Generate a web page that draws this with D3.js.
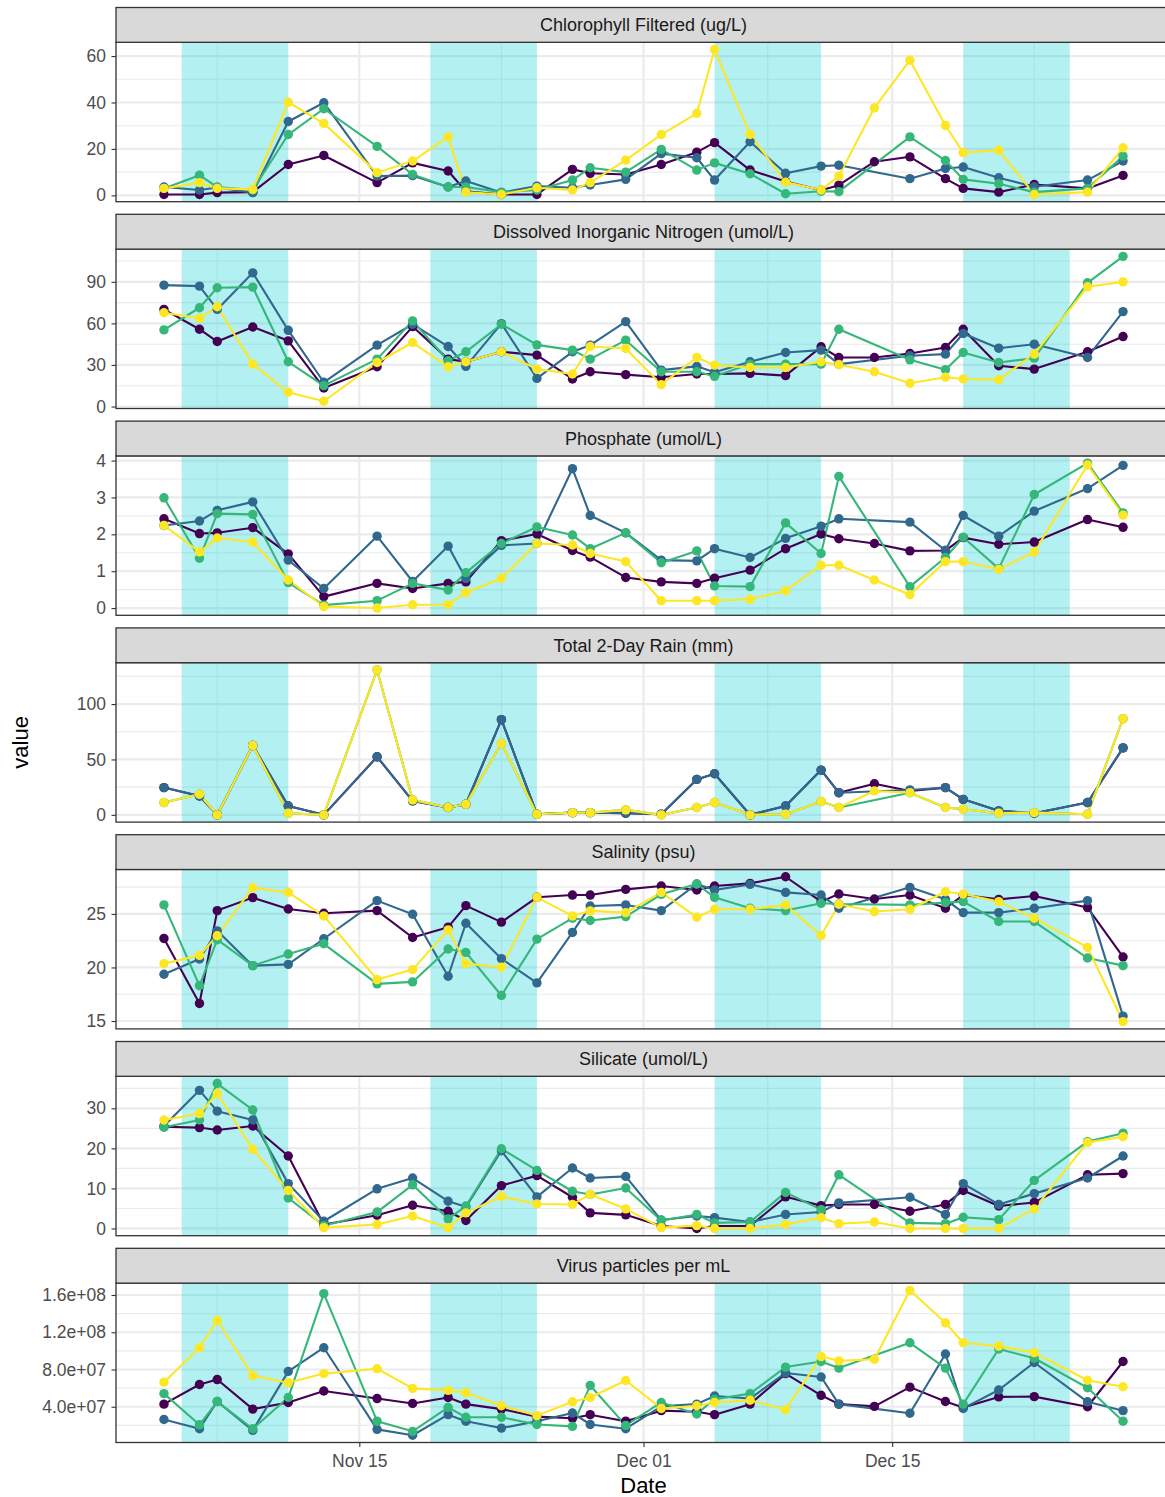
<!DOCTYPE html>
<html>
<head>
<meta charset="utf-8">
<script src="https://cdn.jsdelivr.net/npm/d3@7"></script>
<style>
  body { margin: 0; background: #fff; }
  text { font-family: "Liberation Sans", Arial, Helvetica, sans-serif; }
</style>
</head>
<body>
<svg id="chart" width="1165" height="1497"></svg>
<script>
// ---- sampling dates -------------------------------------------------------
const dates = ["2018-11-04","2018-11-06","2018-11-07","2018-11-09","2018-11-11","2018-11-13",
  "2018-11-16","2018-11-18","2018-11-20","2018-11-21","2018-11-23","2018-11-25","2018-11-27",
  "2018-11-28","2018-11-30","2018-12-02","2018-12-04","2018-12-05","2018-12-07","2018-12-09",
  "2018-12-11","2018-12-12","2018-12-14","2018-12-16","2018-12-18","2018-12-19","2018-12-21",
  "2018-12-23","2018-12-26","2018-12-28"];

// shaded periods (start, end)
const periodStarts = ["2018-11-05","2018-11-19","2018-12-05","2018-12-19"];
const periodEnds   = ["2018-11-11","2018-11-25","2018-12-11","2018-12-25"];

const facetTitles = ["Chlorophyll Filtered (ug/L)","Dissolved Inorganic Nitrogen (umol/L)",
  "Phosphate (umol/L)","Total 2-Day Rain (mm)","Salinity (psu)","Silicate (umol/L)",
  "Virus particles per mL"];

const xTickDates = ["2018-11-15","2018-12-01","2018-12-15"];
const xTickLabels = ["Nov 15","Dec 01","Dec 15"];
const xMinorDates = ["2018-11-07","2018-11-23","2018-12-08","2018-12-23"];

// ---- values per variable, one array per site (null = not sampled) --------
const chlSite1 = [0.4,0.4,1.2,1.4,13.3,17.2,5.5,14,10.5,1.8,0.4,0.4,11.2,9.5,9,13.3,18.6,22.7,10.9,6,2.2,4.4,14.5,16.6,7.2,3,1.4,4.7,3,8.6];
const chlSite2 = [3.6,2.3,3.4,1.2,31.8,39.9,8.3,8.5,3.6,6.2,1.2,4,3.3,4.5,6.9,18,16.2,6.6,23.1,9.5,12.6,13,null,7.2,11.6,12.2,7.6,3.7,6.6,14.8];
const chlSite3 = [3,8.7,3.6,2.3,26.2,37.3,21.1,9,3.6,3.6,1.4,2.3,6.6,11.9,10,19.8,10.9,14,9.3,0.7,1.8,1.6,null,25.2,15,6.9,5,1.4,3,16.9];
const chlSite4 = [3,5.5,3,2.6,40.1,31,9.8,14.8,25.2,1.4,0.4,3.3,2.3,5.5,15.2,26.2,35.3,62.8,26.2,5.7,2.3,8.3,37.7,58.2,30.1,18.4,19.5,0.4,1.4,20.5];

const dinSite1 = [70.1,55.8,46.9,57.4,47.4,13.4,28.7,57.7,34.2,32.3,39.5,37.1,19.9,25.1,23,21.1,23.5,23.5,23.9,22.3,43.1,35.4,35.4,38.3,42.6,55.8,29.4,27,39.5,50.5];
const dinSite2 = [87.6,86.9,70.1,96.5,55,17.5,44.3,59.4,43.3,29,59.8,20.3,39.5,44.3,61.3,26.3,29,24.7,32.3,39,40.7,30.6,null,36.6,37.8,52.7,42.1,45,35.4,68.5];
const dinSite3 = [55.3,71.3,85.7,86.2,32.3,15.1,34.2,61.8,33,39.5,59.4,44.5,40.7,34.2,47.9,25.1,25.1,21.8,30.6,30.6,30.6,55.8,null,33.7,26.6,39,31.8,34.9,89.3,108.4];
const dinSite4 = [67.7,63.7,72,30.6,10.3,3.8,31.8,46.2,28.7,32.3,39.5,27,23.5,43.3,41.9,15.8,35.4,29.9,28.2,28.2,32.3,30.2,25.1,16.8,21.1,19.9,19.4,37.8,86.4,90];

const po4Site1 = [2.42,2.02,2.04,2.18,1.47,0.31,0.67,0.53,0.67,0.71,1.83,2.01,1.56,1.38,0.83,0.71,0.67,0.81,1.03,1.61,2.01,1.88,1.75,1.55,1.56,1.91,1.73,1.79,2.4,2.19];
const po4Site2 = [2.24,2.36,2.65,2.88,1.3,0.53,1.95,0.72,1.68,0.8,1.7,1.75,3.78,2.51,2.04,1.3,1.28,1.61,1.37,1.89,2.22,2.42,null,2.33,1.56,2.51,1.95,2.63,3.24,3.87];
const po4Site3 = [2.99,1.35,2.56,2.54,0.69,0.08,0.2,0.67,0.49,0.96,1.75,2.2,1.98,1.61,2.04,1.23,1.55,0.6,0.58,2.31,1.48,3.57,null,0.58,1.37,1.92,1.07,3.08,3.93,2.58];
const po4Site4 = [2.24,1.52,1.9,1.79,0.76,0.04,0,0.09,0.09,0.42,0.81,1.75,1.71,1.48,1.26,0.2,0.2,0.2,0.24,0.47,1.16,1.16,0.76,0.36,1.26,1.26,1.05,1.52,3.88,2.52];

const rainSite1 = [24.6,17,0,62.6,8,0,52.4,12.6,6.6,9.6,85.9,0.6,2,2,1.5,0.6,32,37.1,0,8,40.4,20,28.1,21.6,24.6,14,3.6,1.5,11.1,60.5];
const rainSite2 = [24.6,17,0,62.6,8,0,52.4,12.6,6.6,9.6,85.9,0.6,2,2,1.5,0.6,32,37.1,0,8,40.4,20,null,22.5,24.6,14,3.6,1.5,11.1,60.5];
const rainSite3 = [11.1,18.6,0,62.6,1.5,0,130.8,13.5,6.6,9.6,64.4,0.6,2,2,4.5,0,6.6,11.1,0,0.6,12,6.6,null,20,6.6,5.1,1.5,2,0.6,86.8];
const rainSite4 = [11.1,18.6,0,62.6,1.5,0,130.8,13.5,6.6,9.6,64.4,0.6,2,2,4.5,0,6.6,11.1,0,0.6,12,6.6,21.6,20,6.6,5.1,1.5,2,0.6,86.8];

const salSite1 = [22.71,16.64,25.31,26.52,25.46,25.06,25.31,22.8,23.76,25.77,24.23,26.55,26.76,26.76,27.29,27.6,27.23,27.6,27.85,28.47,26.15,26.86,26.39,26.76,25.53,26.76,26.36,26.67,25.59,20.98];
const salSite2 = [19.37,20.79,23.42,20.17,20.29,22.68,26.24,24.97,19.18,24.13,20.82,18.56,23.27,25.74,25.84,25.31,27.79,27.23,27.76,27.01,26.76,25.53,null,27.48,26.36,25.12,25.12,25.53,26.24,15.46];
const salSite3 = [25.84,18.31,22.59,20.17,21.25,22.21,18.47,18.65,21.72,21.41,17.38,22.65,24.6,24.38,24.75,26.83,27.79,26.55,25.53,25.31,25.99,25.93,null,25.84,26.05,26.15,24.29,24.29,20.88,20.17];
const salSite4 = [20.36,21.13,22.96,27.45,27.01,24.81,18.87,19.8,23.51,20.36,20.02,26.55,24.81,25.28,25.12,27.01,24.69,25.43,25.43,25.84,22.99,25.9,25.22,25.43,27.07,26.86,26.15,24.6,21.87,14.94];

const sioSite1 = [25.4,25.2,24.6,25.6,18.1,1,3.3,5.8,4.3,2,10.7,13.2,7.8,3.9,3.4,0.6,0,0.6,0.6,7.9,5.7,6,6,4.3,6,9.5,5.6,6.5,13.4,13.7];
const sioSite2 = [25.6,34.5,29.3,27.1,11.2,1.8,9.9,12.6,6.8,5.4,19.4,7.9,15.1,12.6,13,2.1,3.1,2.7,1.6,3.5,4.1,6.4,null,7.8,3.5,11.2,6,8.7,12.6,18.1];
const sioSite3 = [25.3,27.1,36.2,29.6,7.6,0.7,4.1,10.9,2.4,5.6,19.9,14.5,9.3,8.5,10.1,2,3.5,1.4,1.6,9,4.7,13.4,null,1.4,1.2,2.8,2.2,12,21.7,23.8];
const sioSite4 = [27.1,28.7,33.7,19.8,9.5,0.2,1,3.1,0.2,3.9,8,6.1,6,8.5,4.9,0.2,0.7,0,0,1,2.7,1.2,1.6,0,0,0,0,4.9,21.5,22.9];

const virSite1 = [4.28e7,6.39e7,6.92e7,3.75e7,4.46e7,5.69e7,4.88e7,4.35e7,4.99e7,4.28e7,3.75e7,2.94e7,2.77e7,3.15e7,2.45e7,3.58e7,3.47e7,3.15e7,4.28e7,7.56e7,5.23e7,4.28e7,4.04e7,6.11e7,4.56e7,3.93e7,5.06e7,5.09e7,4.0e7,8.86e7];
const virSite2 = [2.63e7,1.64e7,4.56e7,1.46e7,7.8e7,10.34e7,1.57e7,0.94e7,3.15e7,2.45e7,1.71e7,2.45e7,3.33e7,2.1e7,1.64e7,4.04e7,4.28e7,5.16e7,4.88e7,7.63e7,7.2e7,4.28e7,null,3.3e7,9.67e7,3.82e7,5.8e7,8.75e7,4.53e7,3.58e7];
const virSite3 = [5.41e7,2.06e7,4.56e7,1.64e7,4.99e7,16.15e7,2.45e7,1.36e7,3.93e7,2.87e7,2.87e7,2.1e7,1.89e7,6.29e7,2.0e7,4.46e7,3.23e7,4.81e7,5.41e7,8.26e7,8.86e7,8.15e7,null,10.87e7,8.15e7,4.28e7,10.2e7,9.21e7,6.04e7,2.45e7];
const virSite4 = [6.64e7,10.34e7,13.26e7,7.35e7,6.57e7,7.56e7,8.08e7,5.97e7,5.76e7,5.51e7,4.11e7,3.05e7,4.53e7,4.99e7,6.82e7,3.82e7,4.11e7,4.46e7,4.7e7,3.68e7,9.39e7,8.93e7,9.1e7,16.5e7,13.01e7,10.87e7,10.51e7,9.81e7,6.85e7,6.15e7];

// ---- y tick values per facet ----------------------------------------------
const chlTicks = [0,20,40,60];
const dinTicks = [0,30,60,90];
const po4Ticks = [0,1,2,3,4];
const rainTicks = [0,50,100];
const salTicks = [15,20,25];
const sioTicks = [0,10,20,30];
const virTicks = [4e7,8e7,1.2e8,1.6e8];

const siteColors = ["#440154","#31688E","#35B779","#FDE725"];

// ---- assemble facets --------------------------------------------------------
const facetSeries = [
  [chlSite1,chlSite2,chlSite3,chlSite4],
  [dinSite1,dinSite2,dinSite3,dinSite4],
  [po4Site1,po4Site2,po4Site3,po4Site4],
  [rainSite1,rainSite2,rainSite3,rainSite4],
  [salSite1,salSite2,salSite3,salSite4],
  [sioSite1,sioSite2,sioSite3,sioSite4],
  [virSite1,virSite2,virSite3,virSite4]
];
const facetTicks = [chlTicks,dinTicks,po4Ticks,rainTicks,salTicks,sioTicks,virTicks];

function sciLabel(v) {
  // 4.0e+07 style
  const s = d3.format(".1e")(v);
  return s.replace(/e([+-])(\d)$/, "e$10$2");
}
const facetFormats = [d3.format("d"),d3.format("d"),d3.format("d"),d3.format("d"),
  d3.format("d"),d3.format("d"),sciLabel];

// ---- layout -----------------------------------------------------------------
const svg = d3.select("#chart");
const plotLeft = 116, plotRight = 1171;
const firstStripTop = 7.5, stripH = 34.8, panelH = 159.4, facetGap = 12.6;
const axisFont = 17.5, stripFont = 18, titleFont = 22;

const parse = d3.utcParse("%Y-%m-%d");
const dateObjs = dates.map(parse);
const dExt = d3.extent(dateObjs);
const dPad = (dExt[1] - dExt[0]) * 0.05;
const x = d3.scaleUtc()
  .domain([new Date(+dExt[0] - dPad), new Date(+dExt[1] + dPad)])
  .range([plotLeft, plotRight]);

const defs = svg.append("defs");

facetSeries.forEach((series, p) => {
  const stripTop = firstStripTop + p * (stripH + panelH + facetGap);
  const pTop = stripTop + stripH;
  const pBot = pTop + panelH;

  const all = series.flat().filter(v => v !== null);
  const ext = d3.extent(all);
  const pad = (ext[1] - ext[0]) * 0.05;
  const y = d3.scaleLinear().domain([ext[0] - pad, ext[1] + pad]).range([pBot, pTop]);

  const g = svg.append("g");
  const clipId = "clip" + p;
  defs.append("clipPath").attr("id", clipId).append("rect")
    .attr("x", plotLeft).attr("y", pTop).attr("width", plotRight - plotLeft).attr("height", panelH);

  const body = g.append("g").attr("clip-path", `url(#${clipId})`);
  body.append("rect").attr("x", plotLeft).attr("y", pTop)
    .attr("width", plotRight - plotLeft).attr("height", panelH).attr("fill", "#fff");

  // minor grid
  const ticks = facetTicks[p];
  const step = ticks[1] - ticks[0];
  const minorY = [];
  for (let i = -1; i < ticks.length; i++) {
    const m = ticks[0] + step * (i + 0.5);
    if (m > y.domain()[0] && m < y.domain()[1]) minorY.push(m);
  }
  body.selectAll(".minY").data(minorY).join("line")
    .attr("x1", plotLeft).attr("x2", plotRight)
    .attr("y1", d => y(d)).attr("y2", d => y(d))
    .attr("stroke", "#EBEBEB").attr("stroke-width", 1.1);
  body.selectAll(".minX").data(xMinorDates.map(parse)).join("line")
    .attr("x1", d => x(d)).attr("x2", d => x(d))
    .attr("y1", pTop).attr("y2", pBot)
    .attr("stroke", "#EBEBEB").attr("stroke-width", 1.1);
  // major grid
  body.selectAll(".majY").data(ticks).join("line")
    .attr("x1", plotLeft).attr("x2", plotRight)
    .attr("y1", d => y(d)).attr("y2", d => y(d))
    .attr("stroke", "#EBEBEB").attr("stroke-width", 2.2);
  body.selectAll(".majX").data(xTickDates.map(parse)).join("line")
    .attr("x1", d => x(d)).attr("x2", d => x(d))
    .attr("y1", pTop).attr("y2", pBot)
    .attr("stroke", "#EBEBEB").attr("stroke-width", 2.2);

  // shaded periods
  body.selectAll(".period").data(periodStarts.map((s, i) => [parse(s), parse(periodEnds[i])])).join("rect")
    .attr("x", d => x(d[0])).attr("width", d => x(d[1]) - x(d[0]))
    .attr("y", pTop).attr("height", panelH)
    .attr("fill", "#00CED1").attr("fill-opacity", 0.3);

  // lines
  const line = d3.line()
    .defined(d => d.v !== null)
    .x(d => x(d.date)).y(d => y(d.v));
  series.forEach((vals, s) => {
    const pts = vals.map((v, i) => ({ date: dateObjs[i], v })).filter(d => d.v !== null);
    body.append("path").datum(pts)
      .attr("d", line).attr("fill", "none")
      .attr("stroke", siteColors[s]).attr("stroke-width", 2.1)
      .attr("stroke-linejoin", "round");
  });
  // points
  series.forEach((vals, s) => {
    const pts = vals.map((v, i) => ({ date: dateObjs[i], v })).filter(d => d.v !== null);
    body.selectAll(null).data(pts).join("circle")
      .attr("cx", d => x(d.date)).attr("cy", d => y(d.v)).attr("r", 4.7)
      .attr("fill", siteColors[s]);
  });

  // panel border
  g.append("rect").attr("x", plotLeft).attr("y", pTop)
    .attr("width", plotRight - plotLeft).attr("height", panelH)
    .attr("fill", "none").attr("stroke", "#333333").attr("stroke-width", 1.3);

  // strip
  g.append("rect").attr("x", plotLeft).attr("y", stripTop)
    .attr("width", plotRight - plotLeft).attr("height", stripH)
    .attr("fill", "#D9D9D9").attr("stroke", "#333333").attr("stroke-width", 1.3);
  g.append("text").attr("x", (plotLeft + plotRight) / 2).attr("y", stripTop + stripH / 2)
    .attr("dy", "0.35em").attr("text-anchor", "middle")
    .attr("font-size", stripFont).attr("fill", "#1A1A1A").text(facetTitles[p]);

  // y axis
  const yAxis = d3.axisLeft(y).tickValues(ticks).tickFormat(facetFormats[p])
    .tickSizeOuter(0).tickSize(4.5).tickPadding(5.5);
  const ax = g.append("g").attr("transform", `translate(${plotLeft},0)`).call(yAxis);
  ax.select(".domain").remove();
  ax.selectAll(".tick line").attr("stroke", "#333333").attr("stroke-width", 1.1);
  ax.selectAll(".tick text").attr("fill", "#4D4D4D").attr("font-size", axisFont)
    .attr("font-family", "Liberation Sans, Arial, sans-serif");

  // x axis on the bottom facet
  if (p === facetSeries.length - 1) {
    const xAxis = d3.axisBottom(x).tickValues(xTickDates.map(parse))
      .tickFormat((d, i) => xTickLabels[i]).tickSizeOuter(0).tickSize(4.5).tickPadding(8);
    const axx = g.append("g").attr("transform", `translate(0,${pBot})`).call(xAxis);
    axx.select(".domain").remove();
    axx.selectAll(".tick line").attr("stroke", "#333333").attr("stroke-width", 1.1);
    axx.selectAll(".tick text").attr("fill", "#4D4D4D").attr("font-size", axisFont)
      .attr("font-family", "Liberation Sans, Arial, sans-serif");

    svg.append("text").attr("x", (plotLeft + plotRight) / 2).attr("y", pBot + 50)
      .attr("text-anchor", "middle").attr("font-size", titleFont).attr("fill", "#000").text("Date");
    const midY = (firstStripTop + stripH + pBot) / 2;
    svg.append("text").attr("transform", `translate(28,${midY}) rotate(-90)`)
      .attr("text-anchor", "middle").attr("font-size", titleFont).attr("fill", "#000").text("value");
  }
});
</script>
</body>
</html>
